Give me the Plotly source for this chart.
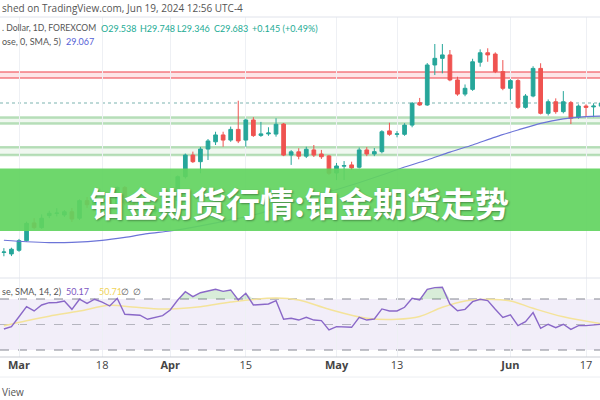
import plotly.graph_objects as go

# ---------------- data ----------------
dates = [
    "2024-02-28", "2024-02-29",
    "2024-03-01", "2024-03-04", "2024-03-05", "2024-03-06", "2024-03-07", "2024-03-08",
    "2024-03-11", "2024-03-12", "2024-03-13", "2024-03-14", "2024-03-15",
    "2024-03-18", "2024-03-19", "2024-03-20", "2024-03-21", "2024-03-22",
    "2024-03-25", "2024-03-26", "2024-03-27", "2024-03-28",
    "2024-04-01", "2024-04-02", "2024-04-03", "2024-04-04", "2024-04-05",
    "2024-04-08", "2024-04-09", "2024-04-10", "2024-04-11", "2024-04-12",
    "2024-04-15", "2024-04-16", "2024-04-17", "2024-04-18", "2024-04-19",
    "2024-04-22", "2024-04-23", "2024-04-24", "2024-04-25", "2024-04-26",
    "2024-04-29", "2024-04-30", "2024-05-01", "2024-05-02", "2024-05-03",
    "2024-05-06", "2024-05-07", "2024-05-08", "2024-05-09", "2024-05-10",
    "2024-05-13", "2024-05-14", "2024-05-15", "2024-05-16", "2024-05-17",
    "2024-05-20", "2024-05-21", "2024-05-22", "2024-05-23", "2024-05-24",
    "2024-05-27", "2024-05-28", "2024-05-29", "2024-05-30", "2024-05-31",
    "2024-06-03", "2024-06-04", "2024-06-05", "2024-06-06", "2024-06-07",
    "2024-06-10", "2024-06-11", "2024-06-12", "2024-06-13", "2024-06-14",
    "2024-06-17", "2024-06-18", "2024-06-19",
]
opens = [
    22.70, 22.63,
    22.80, 23.25, 24.08, 23.86, 24.42, 24.52,
    24.45, 24.60, 24.30, 25.12, 24.93,
    25.22, 25.15, 24.98, 25.74, 25.01,
    24.88, 24.82, 24.60, 24.68,
    24.92, 25.12, 26.24, 27.25, 26.94,
    27.53, 27.87, 28.19, 27.95, 28.45,
    27.95, 28.89, 28.17, 28.24, 28.23,
    28.70, 27.25, 27.40, 27.20, 27.49,
    27.30, 27.21, 26.41, 26.73, 26.79,
    26.68, 27.49, 27.30, 27.41, 28.38,
    28.22, 28.22, 28.65, 29.70, 29.59,
    31.46, 31.77, 31.93, 30.76, 30.10,
    30.32, 31.59, 32.03, 31.97, 31.15,
    30.37, 30.73, 29.48, 30.01, 31.30,
    29.20, 29.74, 29.28, 29.70, 29.02,
    29.54, 29.50, 29.538,
]
highs = [
    22.90, 22.92,
    23.33, 24.14, 24.30, 24.48, 24.65, 24.77,
    24.68, 24.78, 25.18, 25.29, 25.30,
    25.35, 25.20, 25.78, 25.80, 25.10,
    24.98, 24.92, 24.78, 25.05,
    25.40, 26.30, 27.32, 27.41, 27.63,
    28.00, 28.34, 28.34, 28.58, 29.79,
    28.95, 29.02, 28.80, 28.55, 28.97,
    28.75, 27.48, 27.57, 27.64, 27.72,
    27.49, 27.25, 26.88, 26.97, 26.94,
    27.60, 27.62, 27.58, 28.41, 28.76,
    28.37, 28.74, 29.73, 29.92, 31.55,
    32.44, 32.44, 32.16, 30.91, 30.55,
    31.75, 32.19, 32.24, 32.05, 31.69,
    30.80, 30.80, 30.10, 31.40, 31.54,
    29.85, 29.90, 30.24, 29.78, 29.62,
    29.62, 29.67, 29.748,
]
lows = [
    22.52, 22.53,
    22.73, 23.20, 23.78, 23.80, 24.30, 24.38,
    24.36, 24.12, 24.21, 24.78, 24.85,
    25.00, 24.75, 24.85, 24.90, 24.75,
    24.70, 24.52, 24.50, 24.62,
    24.75, 25.05, 26.15, 26.88, 26.40,
    27.02, 27.72, 27.64, 27.87, 27.81,
    27.64, 28.10, 28.10, 28.15, 28.11,
    27.20, 26.79, 27.05, 27.11, 27.16,
    27.07, 26.32, 26.08, 26.08, 26.55,
    26.62, 27.20, 27.20, 27.33, 28.15,
    28.08, 28.15, 28.55, 29.55, 29.55,
    30.99, 31.07, 30.70, 30.02, 30.00,
    30.25, 31.38, 31.61, 31.08, 30.28,
    29.82, 29.40, 29.42, 29.95, 29.15,
    29.10, 29.18, 29.20, 28.70, 28.95,
    29.02, 29.02, 29.346,
]
closes = [
    22.72, 22.85,
    23.25, 24.06, 23.86, 24.30, 24.53, 24.54,
    24.60, 24.26, 25.12, 24.93, 25.22,
    25.15, 24.98, 25.74, 25.01, 24.88,
    24.82, 24.60, 24.68, 24.92,
    25.12, 26.24, 27.25, 26.94, 27.53,
    27.91, 28.19, 27.95, 28.45, 27.91,
    28.89, 28.16, 28.24, 28.28, 28.69,
    27.25, 27.40, 27.20, 27.52, 27.25,
    27.17, 26.40, 26.74, 26.76, 26.65,
    27.49, 27.30, 27.41, 28.34, 28.22,
    28.24, 28.65, 29.67, 29.59, 31.46,
    31.77, 31.93, 30.76, 30.10, 30.37,
    31.61, 32.03, 31.93, 31.15, 30.37,
    30.73, 29.48, 30.01, 31.30, 29.20,
    29.74, 29.28, 29.74, 28.97, 29.54,
    29.48, 29.538, 29.683,
]

# Moving average (at sample bars)
ma_dates = ["2024-02-28", "2024-03-04", "2024-03-07", "2024-03-12", "2024-03-18",
            "2024-03-21", "2024-03-26", "2024-04-01", "2024-04-05", "2024-04-11",
            "2024-04-17", "2024-04-23", "2024-04-29", "2024-05-03", "2024-05-09",
            "2024-05-14", "2024-05-17", "2024-05-22", "2024-05-27", "2024-05-30",
            "2024-06-04", "2024-06-07", "2024-06-12", "2024-06-17", "2024-06-19"]
ma_vals = [23.27, 23.20, 23.16, 23.17, 23.26,
           23.40, 23.58, 23.70, 23.94, 24.22,
           24.54, 25.01, 25.43, 25.85, 26.32,
           26.69, 27.02, 27.39, 27.72, 28.09,
           28.42, 28.73, 28.94, 29.05, 29.067]

# RSI (14) per bar
rsi = [
    46.5, 48.3,
    56.1, 64.0, 60.6, 65.3, 67.1, 67.3,
    68.4, 61.9, 69.8, 66.6, 69.8,
    67.5, 64.5, 70.5, 58.0, 57.8,
    57.3, 54.1, 55.5, 57.0,
    61.4, 69.2, 75.7, 71.8, 74.9,
    76.5, 77.6, 76.0, 77.1, 69.2,
    74.5, 65.3, 65.8, 66.1, 68.7,
    54.1, 54.9, 53.5, 55.6, 53.5,
    53.0, 45.7, 48.3, 48.3, 47.8,
    55.6, 53.5, 54.3, 62.2, 60.6,
    60.6, 63.5, 70.5, 69.2, 77.6,
    78.9, 79.2, 66.1, 60.8, 61.9,
    67.9, 69.8, 68.7, 61.9, 55.6,
    57.5, 49.1, 52.2, 59.3, 47.0,
    50.2, 47.5, 50.2, 46.2, 49.1,
    49.1, 49.6, 50.17,
]
# RSI-based moving average (read at sample bars)
rsima_dates = ["2024-02-28", "2024-03-04", "2024-03-07", "2024-03-13", "2024-03-19",
               "2024-03-22", "2024-03-28", "2024-04-05", "2024-04-11", "2024-04-19",
               "2024-04-24", "2024-04-30", "2024-05-07", "2024-05-13", "2024-05-16",
               "2024-05-21", "2024-05-24", "2024-05-29", "2024-06-03", "2024-06-06",
               "2024-06-12", "2024-06-19"]
rsima_vals = [49.0, 53.0, 56.5, 60.5, 65.0,
              63.8, 62.2, 64.0, 67.6, 70.8,
              69.2, 62.0, 54.9, 54.1, 56.3,
              63.5, 68.5, 69.8, 68.5, 62.7,
              56.0, 50.71]

tick_dates = ["2024-03-01", "2024-03-18", "2024-04-01", "2024-04-15",
              "2024-05-01", "2024-05-13", "2024-06-03", "2024-06-17"]
tick_labels = ["<b>Mar</b>", "18", "<b>Apr</b>", "15", "<b>May</b>", "13", "<b>Jun</b>", "17"]

red_zone = [30.85, 31.13]
green_zone_1 = [28.73, 29.01]
green_zone_2 = [27.25, 27.61]
last_close = 29.683
rsi_levels = [30, 50, 70]

title_text = "铂金期货行情:铂金期货走势"

# ---------------- figure ----------------
W, H = 600, 400
def px(x):
    return x / W
def py(y):
    return 1 - y / H

UP = "#26a69a"
DOWN = "#ef5350"

fig = go.Figure()

fig.add_trace(go.Candlestick(
    x=dates, open=opens, high=highs, low=lows, close=closes,
    increasing=dict(line=dict(color=UP, width=1), fillcolor=UP),
    decreasing=dict(line=dict(color=DOWN, width=1), fillcolor=DOWN),
    whiskerwidth=0, xaxis="x", yaxis="y", showlegend=False,
))
fig.add_trace(go.Scatter(
    x=ma_dates, y=ma_vals, mode="lines",
    line=dict(color="#6c74d8", width=1.2, shape="spline", smoothing=0.8),
    xaxis="x", yaxis="y", showlegend=False,
))

# RSI pane
ob_base = [rsi_levels[2]] * len(dates)
ob_fill = [max(v, rsi_levels[2]) for v in rsi]
fig.add_trace(go.Scatter(x=dates, y=ob_base, mode="lines", line=dict(width=0),
                         xaxis="x", yaxis="y2", showlegend=False))
fig.add_trace(go.Scatter(x=dates, y=ob_fill, mode="lines", line=dict(width=0),
                         fill="tonexty", fillcolor="rgba(76,175,80,0.22)",
                         xaxis="x", yaxis="y2", showlegend=False))
fig.add_trace(go.Scatter(
    x=rsima_dates, y=rsima_vals, mode="lines",
    line=dict(color="#f4e39a", width=1.5, shape="spline", smoothing=1.0),
    xaxis="x", yaxis="y2", showlegend=False,
))
fig.add_trace(go.Scatter(
    x=dates, y=rsi, mode="lines",
    line=dict(color="#8a68c8", width=1.4),
    xaxis="x", yaxis="y2", showlegend=False,
))

shapes = []
# RSI band background
shapes.append(dict(type="rect", xref="paper", yref="y2", x0=0, x1=1,
                   y0=rsi_levels[0], y1=rsi_levels[2],
                   fillcolor="rgba(126,87,194,0.10)", line=dict(width=0), layer="below"))
for lv, op in zip(rsi_levels, [0.9, 0.5, 0.9]):
    shapes.append(dict(type="line", xref="paper", yref="y2", x0=0, x1=1, y0=lv, y1=lv,
                       line=dict(color="rgba(120,123,134,%s)" % op, width=1, dash="dash"),
                       layer="below"))

# zones on price pane
def zone(lo, hi, line_col, fill_col, lw):
    shapes.append(dict(type="rect", xref="paper", yref="y", x0=0, x1=1, y0=lo, y1=hi,
                       fillcolor=fill_col, line=dict(width=0), layer="below"))
    for v in (lo, hi):
        shapes.append(dict(type="line", xref="paper", yref="y", x0=0, x1=1, y0=v, y1=v,
                           line=dict(color=line_col, width=lw), layer="below"))

zone(red_zone[0], red_zone[1], "rgba(242,80,90,0.75)", "rgba(242,54,69,0.13)", 1.5)
zone(green_zone_1[0], green_zone_1[1], "rgba(102,187,106,0.45)", "rgba(129,199,132,0.12)", 2.5)
zone(green_zone_2[0], green_zone_2[1], "rgba(102,187,106,0.45)", "rgba(129,199,132,0.12)", 2.5)

# last price dotted line
shapes.append(dict(type="line", xref="paper", yref="y", x0=0, x1=1, y0=last_close, y1=last_close,
                   line=dict(color="rgba(90,160,155,0.8)", width=1, dash="dot"), layer="below"))

# separators
for yy, col in [(17, "#e0e3eb"), (278, "#e0e3eb"), (357, "#c9ccd3"), (377, "#eceef2")]:
    shapes.append(dict(type="line", xref="paper", yref="paper", x0=0, x1=1,
                       y0=py(yy), y1=py(yy), line=dict(color=col, width=1), layer="above"))

# banner
shapes.append(dict(type="rect", xref="paper", yref="paper", x0=0, x1=1,
                   y0=py(231), y1=py(168.5), fillcolor="rgba(98,212,95,0.92)",
                   line=dict(width=0), layer="above"))

fig.update_layout(shapes=shapes)

ann = []
def txt(s, x, y, color="#555555", size=9, anchor="left", family="Lato, sans-serif"):
    ann.append(dict(text=s, x=px(x), y=py(y), xref="paper", yref="paper",
                    xanchor=anchor, yanchor="middle", showarrow=False,
                    font=dict(color=color, size=size, family=family)))

txt("shed on TradingView.com, Jun 19, 2024 12:56 UTC-4", 0, 8, "#555555", 10,
    family="Open Sans, sans-serif")
txt(". Dollar, 1D, FOREXCOM", 0, 28, "#555555", 8.6)
teal = "#22ab94"
txt("O29.538", 99, 28, teal, 9)
txt("H29.748", 138, 28, teal, 9)
txt("L29.346", 175, 28, teal, 9)
txt("C29.683", 212, 28, teal, 9)
txt("+0.145 (+0.49%)", 250, 28, teal, 9)
txt("ose, 0, SMA, 5)", 0, 42, "#555555", 9)
txt("29.067", 64, 42, "#5561d6", 9)
txt("se, SMA, 14, 2)", 0, 291, "#555555", 9)
txt("50.17", 64, 291, "#7e57c2", 9)
txt("50.71", 97, 291, "#f0d45a", 9)
txt("∅", 119, 291, "#555555", 9)
txt("∅", 131, 291, "#555555", 9)
txt("View", 0, 392, "#555555", 10, family="Open Sans, sans-serif")

ann.append(dict(text="<b>" + title_text + "</b>", x=px(299), y=py(203), xref="paper", yref="paper",
                xanchor="center", yanchor="middle", showarrow=False,
                font=dict(color="#ffffff", size=34, family="Noto Sans CJK SC",
                          shadow="1px 1px 2px rgba(0,0,0,0.35)")))

fig.update_layout(annotations=ann)

# x range in category index units: bar k at pixel 19 + (k-2)*7.56
sp = 7.56
x_lo = 2 - 19 / sp
x_hi = 2 + (600 - 19) / sp

fig.update_layout(
    width=W, height=H,
    margin=dict(l=0, r=0, t=0, b=0),
    paper_bgcolor="white", plot_bgcolor="white",
    showlegend=False,
    xaxis=dict(type="category", range=[x_lo, x_hi], anchor="y2",
               tickmode="array", tickvals=tick_dates, ticktext=tick_labels,
               showgrid=True, gridcolor="#eef0f4", gridwidth=1,
               ticks="", showline=False, zeroline=False,
               tickfont=dict(family="Open Sans, sans-serif", size=11, color="#444444"),
               rangeslider=dict(visible=False), fixedrange=True),
    yaxis=dict(domain=[py(278), py(17)], range=[21.505, 33.702], visible=False,
               showgrid=False, zeroline=False),
    yaxis2=dict(domain=[py(357), py(278)], range=[24.51, 86.47], visible=False,
                showgrid=False, zeroline=False),
)

fig.write_html("out.html")
